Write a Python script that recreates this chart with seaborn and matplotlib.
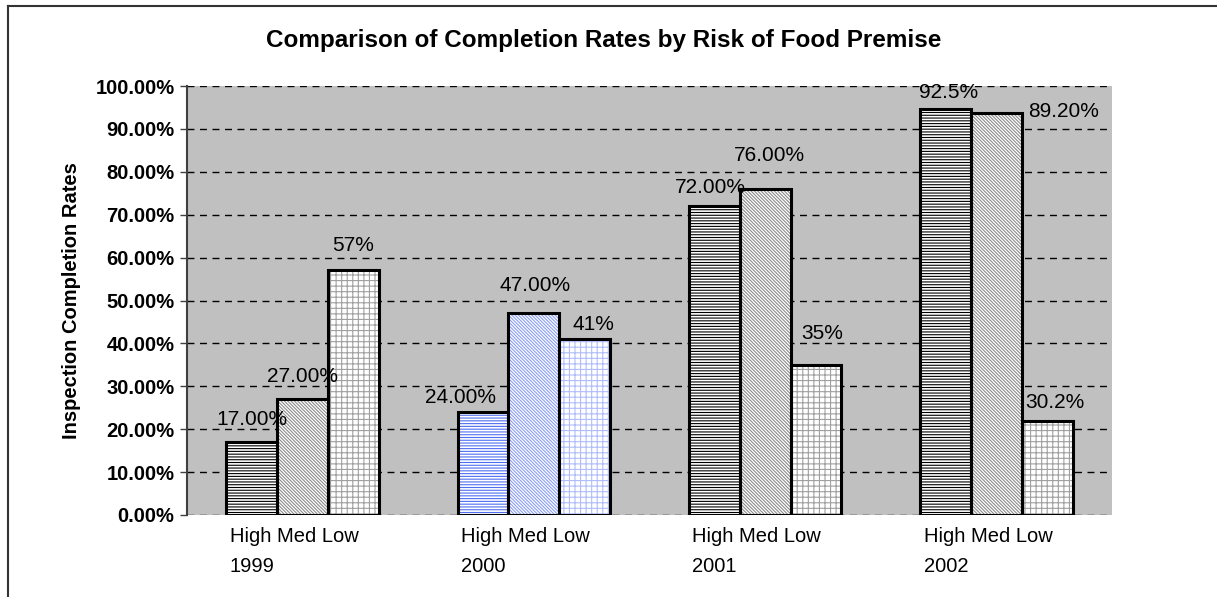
import matplotlib
matplotlib.use("Agg")
import matplotlib.pyplot as plt
import matplotlib.patches as mpatches
from matplotlib.lines import Line2D
import numpy as np
import pandas as pd
import seaborn as sns

# data
years = ["1999", "2000", "2001", "2002"]
risks = ["High", "Med", "Low"]
high = [17, 24, 72, 94.7]
med = [27, 47, 76, 93.7]
low = [57, 41, 35, 22]
high_labels = ["17.00%", "24.00%", "72.00%", "92.5%"]
med_labels = ["27.00%", "47.00%", "76.00%", "89.20%"]
low_labels = ["57%", "41%", "35%", "30.2%"]
yticks = [0, 10, 20, 30, 40, 50, 60, 70, 80, 90, 100]

# label nudges in pixels (dx, dy from bar top centre), per risk then year
label_offsets = [
    [(0, 23), (-23, 15), (-4, 19), (3, 16)],
    [(0, 23), (1, 28), (4, 33), (67, 2)],
    [(0, 25), (9, 15), (6, 31), (8, 18)],
]

hatches = ["------", "\\" * 10, "+++"]
hatch_grey = ["black", "#8c8c8c", "#a0a0a0"]
hatch_blue = ["#4f6ff0", "#8a9ef5", "#b0bdfa"]

df = pd.DataFrame({
    "year": np.repeat(years, 3),
    "risk": risks * 4,
    "rate": [v for trio in zip(high, med, low) for v in trio],
})

plt.rcParams["font.family"] = ["Liberation Sans", "DejaVu Sans"]
plt.rcParams["hatch.linewidth"] = 0.8

fig = plt.figure(figsize=(12.17, 5.97), dpi=100)
ax = fig.add_axes([187 / 1217, 1 - 515 / 597, 925 / 1217, 429 / 597])

sns.barplot(data=df, x="year", y="rate", hue="risk", hue_order=risks,
            order=years, width=0.66, ax=ax, legend=False, errorbar=None)

all_labels = [high_labels, med_labels, low_labels]
for r, cont in enumerate(ax.containers):
    for i, bar in enumerate(cont):
        hc = hatch_blue[r] if years[i] == "2000" else hatch_grey[r]
        bar.set_facecolor("white")
        bar.set_hatch(hatches[r])
        bar.set_edgecolor(hc)
        bar.set_linewidth(0)
        outline = mpatches.Rectangle(bar.get_xy(), bar.get_width(), bar.get_height(),
                                     fill=False, edgecolor="black", linewidth=2.2,
                                     zorder=bar.get_zorder() + 0.1)
        ax.add_patch(outline)
        dx, dy = label_offsets[r][i]
        ax.annotate(all_labels[r][i],
                    (bar.get_x() + bar.get_width() / 2, bar.get_height()),
                    xytext=(dx, dy), textcoords="offset pixels",
                    ha="center", va="center", fontsize=15, color="black",
                    annotation_clip=False)

ax.set_facecolor("#c0c0c0")
ax.set_ylim(0, 100)
ax.set_xlim(-0.5, 3.5)
ax.set_yticks(yticks)
ax.set_yticklabels([f"{t:.2f}%" for t in yticks], fontsize=14.5, fontweight="bold")
ax.yaxis.grid(True, color="black", linestyle=(0, (5, 4)), linewidth=1)
ax.set_axisbelow(True)

ax.set_xticks([i - 0.315 for i in range(len(years))])
ax.set_xticklabels([f"High Med Low\n{y}" for y in years], ha="left",
                   fontsize=14.5, linespacing=1.7)
ax.tick_params(axis="x", length=0, pad=9)
ax.tick_params(axis="y", length=5, width=1, color="#404040", pad=4)

for s in ["top", "right", "bottom"]:
    ax.spines[s].set_visible(False)
ax.spines["left"].set_color("#404040")
ax.spines["left"].set_linewidth(1.5)

ax.set_xlabel("")
ax.set_ylabel("Inspection Completion Rates", fontsize=14.5, fontweight="bold", labelpad=10)

fig.text(604 / 1217, 1 - 41 / 597, "Comparison of Completion Rates by Risk of Food Premise",
         ha="center", va="center", fontsize=17.5, fontweight="bold")

# outer frame of the chart area (only left and top edges fall inside the image)
fx, fy = 8 / 1217, 1 - 6 / 597
fig.add_artist(Line2D([fx, fx], [0, fy], color="#333333", linewidth=1.5,
                      transform=fig.transFigure))
fig.add_artist(Line2D([fx, 1], [fy, fy], color="#333333", linewidth=1.5,
                      transform=fig.transFigure))

fig.savefig("out.png", dpi=100)
